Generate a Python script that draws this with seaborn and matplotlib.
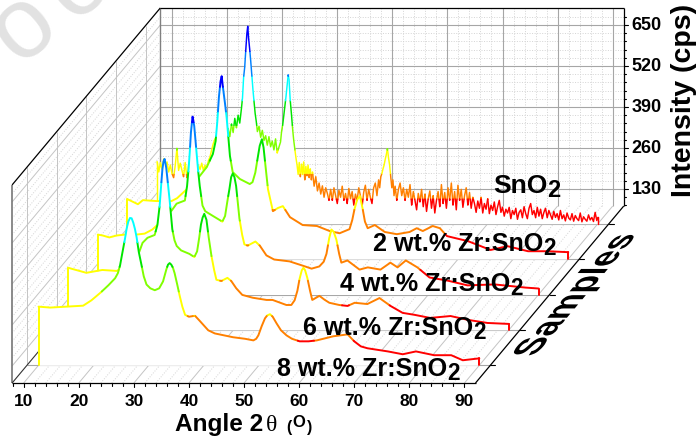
"""Stacked XRD patterns of Zr doped SnO2, drawn as an oblique 3D waterfall."""
import numpy as np
import pandas as pd
import seaborn as sns
import matplotlib.pyplot as plt
from matplotlib.patheffects import AbstractPathEffect
from matplotlib.transforms import Affine2D

# Angle in degrees, intensity in cps.
angle_8 = [10, 12.1, 15.1, 18.1, 19.6, 21.3, 22.7, 23.9, 24.4, 24.8,
           25.2, 25.7, 26, 26.3, 26.6, 26.9, 27.2, 27.5, 27.8, 28.2,
           28.7, 29.1, 29.6, 30.3, 31.1, 31.9, 32.6, 33.2, 33.5, 33.8,
           34.1, 34.4, 34.7, 35.2, 35.6, 36.1, 36.6, 37.3, 38.4, 39.2,
           40.8, 42, 45.3, 47.5, 49, 49.5, 49.9, 50.5, 51.1, 51.5,
           52, 52.5, 53.2, 54, 55, 56, 57.4, 59, 60.5, 63.5,
           66.1, 67.3, 68.5, 69.7, 73.4, 76.1, 78.5, 81.8, 84.9, 87, 90]
counts_8 = [262, 259, 262, 265, 282, 307, 330, 352, 368, 393,
            431, 478, 510, 532, 543, 542, 528, 508, 482, 435,
            393, 358, 332, 320, 314, 320, 342, 380, 395, 400,
            395, 385, 368, 330, 298, 262, 236, 230, 233, 218,
            187, 177, 165, 160, 155, 160, 171, 200, 225, 234,
            238, 230, 209, 187, 171, 160, 152, 152, 155, 168,
            174, 152, 136, 130, 120, 111, 120, 108, 108, 92, 98]

angle_6 = [10, 10.8, 13.3, 16.2, 18.8, 20.2, 22, 22.9, 23.5, 24.4,
           25.7, 26.2, 26.6, 26.9, 27.1, 27.3, 27.5, 27.8, 28.1, 28.4,
           28.9, 29.3, 29.7, 30.5, 32, 32.9, 33.4, 33.8, 34.1, 34.4,
           34.7, 35.1, 35.5, 36, 36.5, 36.9, 37.8, 38.9, 39.6, 40.5,
           41.6, 43.5, 46, 47.1, 49.6, 50.5, 51.1, 51.6, 52, 52.4,
           52.7, 53, 53.4, 53.9, 54.3, 55, 55.6, 56.5, 57.4, 59.2,
           60.7, 62, 64.3, 66.5, 68.5, 70.7, 72.8, 75.7, 79.4, 82.5, 86.1, 90]
counts_6 = [273, 269, 257, 266, 263, 276, 304, 323, 352, 368,
            377, 409, 469, 540, 585, 610, 618, 590, 540, 490,
            395, 360, 342, 328, 317, 307, 325, 370, 410, 432,
            444, 425, 370, 311, 265, 235, 231, 241, 231, 208,
            187, 178, 171, 171, 155, 155, 170, 200, 238, 265,
            273, 265, 241, 200, 171, 178, 184, 172, 162, 155,
            152, 162, 158, 177, 152, 130, 124, 114, 120, 108, 98, 95]

angle_4 = [10, 10.9, 12.1, 13.4, 14.9, 17, 18.5, 19.9, 20.9, 21.6,
           23.4, 24.3, 25.8, 26.2, 26.5, 26.7, 26.9, 27.2, 27.5, 27.7,
           28, 28.2, 28.5, 29, 29.5, 30.8, 32.6, 33.1, 33.5, 33.9,
           34.2, 34.5, 34.8, 35.1, 35.7, 36.2, 36.6, 37.2, 38.6, 39.4,
           40.6, 42, 44.8, 47.1, 48.8, 50.2, 51, 51.5, 52, 52.4,
           52.8, 53.3, 53.8, 54.2, 55.3, 57.5, 59, 61.3, 63.1, 64.4,
           65.9, 68, 70.2, 73.5, 77.1, 82, 87.6, 90]
counts_4 = [266, 263, 257, 263, 266, 266, 269, 282, 298, 315,
            342, 364, 374, 420, 480, 530, 590, 640, 610, 570,
            510, 470, 420, 358, 340, 326, 307, 325, 370, 412,
            448, 460, 448, 420, 317, 265, 235, 231, 244, 231,
            200, 187, 181, 168, 158, 165, 180, 205, 255, 282,
            275, 250, 205, 177, 184, 155, 162, 155, 177, 162,
            184, 162, 130, 120, 105, 108, 98, 95]

angle_2 = [10, 11.9, 12.8, 15.3, 18, 19, 20.8, 23.1, 24.4, 25.5,
           26, 26.3, 26.6, 26.9, 27.1, 27.3, 27.7, 28, 28.3, 28.6,
           29.1, 30.4, 32.2, 32.7, 33.2, 33.6, 34, 34.4, 34.7, 35,
           35.5, 36.4, 37.3, 38.2, 39.5, 41.8, 44.4, 46.7, 48.5, 50.3,
           50.8, 51.2, 51.7, 52.2, 52.7, 53.1, 53.6, 54.9, 56.7, 58.9,
           61.2, 62.5, 63.6, 65.4, 66.7, 68, 69.4, 71.8, 75.9, 79, 82.7, 86.3, 90]
counts_2 = [266, 250, 263, 260, 260, 269, 298, 339, 368, 409,
            450, 510, 590, 640, 656, 625, 570, 525, 465, 403,
            352, 330, 314, 320, 350, 393, 435, 456, 430, 380,
            298, 228, 238, 244, 209, 184, 181, 165, 158, 171,
            200, 234, 265, 276, 234, 195, 174, 184, 162, 155,
            162, 174, 165, 181, 174, 149, 143, 133, 105, 117, 101, 101, 98]

angle_0 = [10, 10.3, 10.6, 10.9, 11.2, 11.5, 11.8, 12.1, 12.4, 12.7,
           13, 13.3, 13.6, 13.9, 14.2, 14.5, 14.8, 15.1, 15.4, 15.7,
           16, 16.3, 16.6, 16.9, 17.2, 17.5, 17.8, 18.1, 18.4, 18.7,
           19, 19.3, 19.6, 19.9, 20.2, 20.5, 20.8, 21.1, 21.4, 21.7,
           22, 22.3, 22.6, 22.9, 23.2, 23.5, 23.8, 24.1, 24.4, 24.7,
           25, 25.3, 25.5, 25.7, 25.9, 26.1, 26.3, 26.45, 26.6, 26.8,
           27, 27.2, 27.4, 27.6, 27.8, 28, 28.2, 28.5, 28.8, 29.1,
           29.4, 29.7, 30, 30.3, 30.6, 30.9, 31.2, 31.5, 31.8, 32.1,
           32.4, 32.6, 32.8, 33, 33.2, 33.4, 33.6, 33.8, 33.95, 34.15,
           34.4, 34.6, 34.8, 35, 35.2, 35.4, 35.6, 35.8, 36, 36.2,
           36.4, 36.6, 36.8, 37, 37.2, 37.4, 37.6, 37.8, 38, 38.2,
           38.5, 38.8, 39.1, 39.4, 39.7, 40, 40.3, 40.6, 40.9, 41.2,
           41.5, 41.8, 42.1, 42.4, 42.7, 43, 43.3, 43.6, 43.9, 44.2,
           44.5, 44.8, 45.1, 45.4, 45.7, 46, 46.3, 46.6, 46.9, 47.2,
           47.5, 47.8, 48.1, 48.4, 48.7, 49, 49.3, 49.6, 49.9, 50.2,
           50.4, 50.6, 50.8, 51, 51.2, 51.4, 51.6, 51.8, 52, 52.2,
           52.4, 52.6, 52.8, 53, 53.2, 53.5, 53.8, 54.1, 54.4, 54.7,
           55, 55.3, 55.6, 55.9, 56.2, 56.5, 56.8, 57.1, 57.4, 57.7,
           58, 58.3, 58.6, 58.9, 59.2, 59.5, 59.8, 60.1, 60.4, 60.7,
           61, 61.3, 61.6, 61.9, 62.2, 62.5, 62.8, 63.1, 63.4, 63.7,
           64, 64.3, 64.6, 64.9, 65.2, 65.5, 65.8, 66.1, 66.4, 66.7,
           67, 67.3, 67.6, 67.9, 68.2, 68.5, 68.8, 69.1, 69.4, 69.7,
           70, 70.3, 70.6, 70.9, 71.2, 71.5, 71.8, 72.1, 72.4, 72.7,
           73, 73.3, 73.6, 73.9, 74.2, 74.5, 74.8, 75.1, 75.4, 75.7,
           76, 76.3, 76.6, 76.9, 77.2, 77.5, 77.8, 78.1, 78.4, 78.7,
           79, 79.3, 79.6, 79.9, 80.2, 80.5, 80.8, 81.1, 81.4, 81.7,
           82, 82.3, 82.6, 82.9, 83.2, 83.5, 83.8, 84.1, 84.4, 84.7,
           85, 85.3, 85.6, 85.9, 86.2, 86.5, 86.8, 87.1, 87.4, 87.7,
           88, 88.3, 88.6, 88.9, 89.2, 89.5, 89.8, 90]
counts_0 = [273, 240, 270, 248, 282, 252, 272, 240, 262, 235,
            222, 262, 315, 245, 268, 246, 225, 270, 222, 262,
            278, 250, 270, 279, 245, 262, 248, 268, 245, 262,
            248, 275, 288, 310, 330, 345, 330, 362, 345, 385,
            360, 395, 370, 378, 352, 392, 365, 410, 380, 420,
            395, 440, 475, 540, 572, 628, 680, 702, 665, 630,
            590, 545, 500, 462, 425, 400, 368, 385, 350, 372,
            340, 355, 325, 352, 320, 338, 310, 345, 300, 318,
            335, 370, 390, 420, 450, 480, 515, 548, 532, 470,
            420, 375, 340, 312, 285, 262, 232, 270, 225, 265,
            232, 272, 215, 258, 228, 262, 222, 250, 215, 240,
            195, 225, 180, 205, 170, 196, 160, 190, 172, 150,
            185, 150, 190, 165, 140, 182, 160, 195, 150, 172,
            140, 188, 155, 178, 135, 170, 150, 190, 165, 130,
            176, 198, 150, 185, 160, 140, 190, 205, 165, 215,
            190, 225, 235, 250, 262, 280, 295, 314, 285, 262,
            225, 190, 215, 165, 195, 150, 185, 205, 165, 190,
            150, 185, 160, 200, 135, 178, 150, 120, 172, 145,
            185, 130, 170, 115, 155, 180, 125, 165, 110, 150,
            178, 130, 200, 140, 175, 125, 190, 150, 205, 135,
            178, 120, 198, 150, 185, 128, 165, 190, 135, 175,
            125, 160, 140, 112, 148, 125, 160, 110, 140, 122,
            155, 108, 135, 118, 145, 105, 130, 150, 112, 128,
            100, 122, 110, 128, 92, 118, 105, 125, 90, 112,
            120, 95, 130, 108, 92, 125, 140, 105, 118, 95,
            128, 100, 122, 92, 112, 125, 95, 118, 104, 90,
            115, 96, 108, 88, 118, 92, 104, 85, 110, 94,
            88, 108, 84, 102, 92, 86, 110, 82, 98, 90,
            84, 104, 88, 96, 83, 112, 86, 96]

sample_names = ['8 wt.% Zr:SnO', '6 wt.% Zr:SnO', '4 wt.% Zr:SnO', '2 wt.% Zr:SnO', 'SnO']
sample_angles = [angle_8, angle_6, angle_4, angle_2, angle_0]
sample_counts = [counts_8, counts_6, counts_4, counts_2, counts_0]

angle_ticks = [10, 20, 30, 40, 50, 60, 70, 80, 90]
count_ticks = [130, 260, 390, 520, 650]

# Axis limits and the oblique shift from the front plane to the back wall.
x_lo, x_hi = 7.9, 92.0
z_lo, z_hi = 76.0, 704.0
shift_x, shift_z = 26.9, 561.0

# Colour levels of the rainbow, one colour per 78 cps.
level_edges = [z_lo + 78 * i for i in range(1, 8)]
level_colors = ['#ff0000', '#ff8000', '#ffff00', '#80ff00',
                '#00e600', '#00ffff', '#0080ff', '#0000ff']
palette = {str(i): c for i, c in enumerate(level_colors)}

W, H = 696, 439
sns.set_theme(style='white', rc={'axes.grid': False})
plt.rcParams['font.family'] = ['Liberation Sans', 'DejaVu Sans']

fig = plt.figure(figsize=(W / 100, H / 100), dpi=100)
ax = fig.add_axes([0, 0, 1, 1])
ax.axis('off')


def proj(a, z, d):
    """Angle, intensity and depth (0 front, 1 back) to plot coordinates."""
    return np.asarray(a, float) + d * shift_x, np.asarray(z, float) + d * shift_z


def seg(a0, z0, d0, a1, z1, d1, **kw):
    x0, y0 = proj(a0, z0, d0)
    x1, y1 = proj(a1, z1, d1)
    ax.plot([x0, x1], [y0, y1], solid_capstyle='butt', **kw)


def level_of(z):
    return str(int(np.searchsorted(level_edges, z)))


def split_levels(a, z):
    """Cut a curve where it crosses a colour level, one table row per point."""
    rows = []
    run = 0
    cur = level_of(z[0])
    rows.append((a[0], z[0], cur, run))
    for i in range(len(a) - 1):
        lo, hi = min(z[i], z[i + 1]), max(z[i], z[i + 1])
        cuts = [e for e in level_edges if lo < e < hi]
        cuts = sorted(cuts, reverse=z[i + 1] < z[i])
        for e in cuts:
            t = (e - z[i]) / (z[i + 1] - z[i])
            ca = a[i] + t * (a[i + 1] - a[i])
            rows.append((ca, e, cur, run))
            cur = str(int(np.searchsorted(level_edges, e + (1 if z[i + 1] > z[i] else -1))))
            run += 1
            rows.append((ca, e, cur, run))
        rows.append((a[i + 1], z[i + 1], cur, run))
    # Closing drops to the floor keep the colour of the curve ends.
    rows.append((a[0], z_lo, level_of(z[0]), run + 1))
    rows.append((a[0], z[0], level_of(z[0]), run + 1))
    rows.append((a[-1], z[-1], level_of(z[-1]), run + 2))
    rows.append((a[-1], z_lo, level_of(z[-1]), run + 2))
    return pd.DataFrame(rows, columns=['angle', 'counts', 'level', 'run'])


# Walls and floor.
major = dict(color='#a6a6a6', lw=0.8, zorder=2)
side = dict(color='#c4c4c4', lw=0.7, zorder=1)
dots = dict(color='#d4d4d4', lw=0.7, ls=(0, (1, 1.6)), zorder=1)
for a in range(10, 92, 2):
    main = a % 10 == 0
    seg(a, z_lo, 1, a, z_hi, 1, **(major if main else dots))
    seg(a, z_lo, 0, a, z_lo, 1, **(side if main else dots))
for z in range(130, 702, 26):
    main = z % 130 == 0
    seg(x_lo, z, 1, x_hi, z, 1, **(major if main else dots))
    seg(x_lo, z, 0, x_lo, z, 1, **(side if main else dots))
for i in range(5):
    d = (i + 0.5) / 5
    seg(x_lo, z_lo, d, x_lo, z_hi, d, **side)
    seg(x_lo, z_lo, d, x_hi, z_lo, d, color='#a6a6a6', lw=0.8, zorder=2)
    x0, y0 = proj(x_hi, z_lo, d)
    ax.plot([x0, x0 + 0.9], [y0, y0], color='black', lw=0.8, zorder=30)

edge = dict(color='black', lw=0.9, zorder=30)
seg(x_lo, z_hi, 1, x_hi, z_hi, 1, **edge)
seg(x_lo, z_hi, 0, x_lo, z_hi, 1, **edge)
seg(x_hi, z_lo, 1, x_hi, z_hi, 1, **edge)
seg(x_lo, z_lo, 0, x_hi, z_lo, 0, **edge)
seg(x_hi, z_lo, 0, x_hi, z_lo, 1, **edge)
seg(x_lo, z_lo, 0, x_lo, z_hi, 0, color='#777777', lw=1.2, zorder=3)
seg(x_lo, z_lo, 1, x_lo, z_hi, 1, color='#808080', lw=1.0, zorder=3)
seg(x_lo, z_lo, 0, x_lo, z_lo, 1, color='#333333', lw=0.8, zorder=3)

# Ticks.
for a in range(8, 92, 2):
    main = a % 10 == 0
    ax.plot([a, a], [z_lo, z_lo - (13 if main else 8)], color='black', lw=0.8, zorder=30)
for z in range(78, 702, 26):
    main = z % 130 == 0
    x0, y0 = proj(x_hi, z, 1)
    ax.plot([x0, x0 + (0.8 if main else 0.45)], [y0, y0], color='black', lw=0.8, zorder=30)

# Curves from the back to the front, each hiding what lies behind it.
for i in range(4, -1, -1):
    a = sample_angles[i]
    z = sample_counts[i]
    d = (i + 0.5) / 5
    fx, fz = proj(a, z, d)
    _, fb = proj(a, [z_lo] * len(a), d)
    ax.fill_between(fx, fz, fb, color='white', lw=0, zorder=10 + 2 * (4 - i))
    table = split_levels(a, z)
    table['x'], table['y'] = proj(table['angle'], table['counts'], d)
    sns.lineplot(data=table, x='x', y='y', hue='level', units='run', estimator=None,
                 sort=False, palette=palette, legend=False, ax=ax,
                 lw=1.4 if i < 4 else 1.05, zorder=11 + 2 * (4 - i))

ax.set_xlim(10 + (0 - 23.7) / 5.51, 10 + (W - 23.7) / 5.51)
ax.set_ylim(z_lo - (H - 384) * 3.17, z_lo + 384 * 3.17)
ax.axis('off')


def put(x, y, s, **kw):
    kw.setdefault('fontweight', 'bold')
    kw.setdefault('color', 'black')
    kw.setdefault('zorder', 40)
    return fig.text(x / W, 1 - y / H, s, **kw)


for a in angle_ticks:
    x0, _ = ax.transData.transform((a, z_lo))
    put(x0, 402, str(a), fontsize=12.5, ha='center', va='center')
for z in count_ticks:
    x0, y0 = proj(x_hi, z, 1)
    px, py = ax.transData.transform((x0, y0))
    put(px + 8, H - py, str(z), fontsize=13, ha='left', va='center')

# Sample names, with the large subscript placed after the name.
name_spots = [(277, 376, 18.1), (303, 335, 18.1), (340, 291, 18.1), (373, 251, 18.1), (493, 193, 19)]
fig.canvas.draw()
rend = fig.canvas.get_renderer()
for name, (x, y, fs) in zip(sample_names, name_spots):
    t = put(x, y, name, fontsize=fs, ha='left', va='baseline')
    box = t.get_window_extent(rend)
    put(box.x1, y + 4, '2', fontsize=fs * 0.9, ha='left', va='baseline')

# Angle label built from its pieces.
put(175, 431, 'Angle 2', fontsize=17.6, ha='left', va='baseline')
put(266, 431, '\u03b8', fontsize=17, ha='left', va='baseline', family='Liberation Serif',
    fontweight='normal')
put(286, 432, '(', fontsize=11.5, ha='left', va='baseline')
put(292, 427, 'O', fontsize=12, ha='left', va='baseline')
put(307, 432, ')', fontsize=11.5, ha='left', va='baseline')

put(684, 100, 'Intensity (cps)', fontsize=20.5, rotation=90, ha='center', va='center')


class FloorShear(AbstractPathEffect):
    """Lay rotated text on the floor plane: letters stand along the angle axis."""

    def __init__(self, x, y, angle):
        super().__init__()
        th = np.radians(angle)
        rot = np.array([[np.cos(th), -np.sin(th)], [np.sin(th), np.cos(th)]])
        want = np.array([[np.cos(th), -0.95], [np.sin(th), 0.0]])
        lin = want @ np.linalg.inv(rot)
        mat = np.eye(3)
        mat[:2, :2] = lin
        self.shear = Affine2D().translate(-x, -y) + Affine2D(mat) + Affine2D().translate(x, y)

    def draw_path(self, renderer, gc, tpath, affine, rgbFace=None):
        renderer.draw_path(gc, tpath, affine + self.shear, rgbFace)


sx, sy = 586, 296
t = put(sx, sy, 'Samples', fontsize=28, rotation=50, rotation_mode='anchor',
        ha='center', va='baseline')
t.set_path_effects([FloorShear(sx, H - sy, 50)])

# Faint watermark letters in the corner.
put(24, 27, 'o', fontsize=72, rotation=40, color='#e2e2e2', fontweight='normal',
    ha='center', va='center', zorder=0)
put(78, -16, 'o', fontsize=72, rotation=40, color='#e2e2e2', fontweight='normal',
    ha='center', va='center', zorder=0)

fig.savefig('out.png', dpi=100)
